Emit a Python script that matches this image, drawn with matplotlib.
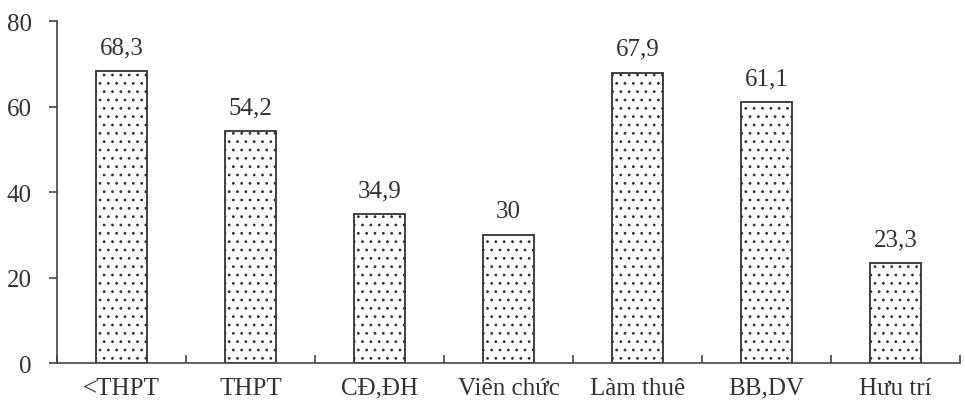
import numpy as np
import matplotlib.pyplot as plt

categories = ['<THPT', 'THPT', 'CĐ,ĐH', 'Viên chức', 'Làm thuê', 'BB,DV', 'Hưu trí']
values = [68.3, 54.2, 34.9, 30, 67.9, 61.1, 23.3]
value_labels = ['68,3', '54,2', '34,9', '30', '67,9', '61,1', '23,3']

plt.rcParams['font.family'] = ['Liberation Serif', 'DejaVu Serif']
plt.rcParams['hatch.linewidth'] = 0.8
plt.rcParams['hatch.color'] = '#707070'

fig = plt.figure(figsize=(9.65, 4.06), dpi=100)
ax = fig.add_axes([0.059, 0.1034, 0.936, 0.8424])

ind = np.arange(len(categories))
ax.bar(ind, values, width=0.4, facecolor='white', edgecolor='#333333',
       linewidth=1.3, hatch='..')

for i, v in enumerate(values):
    ax.text(ind[i], v + 3, value_labels[i], ha='center', va='bottom',
            fontsize=18, color='#333333')

ax.set_xlim(-0.5, len(categories) - 0.5)
ax.set_ylim(0, 80)
ax.set_yticks([0, 20, 40, 60, 80])
ax.set_xticks(ind)
ax.set_xticklabels(categories)
ax.set_xticks(np.arange(len(categories) + 1) - 0.5, minor=True)
ax.tick_params(axis='x', which='major', length=0, pad=10, labelsize=18,
               labelcolor='#333333')
ax.tick_params(axis='x', which='minor', direction='in', length=6, width=1.2,
               color='#444444')
ax.tick_params(axis='y', direction='out', length=6, width=1.2, pad=12,
               labelsize=18, labelcolor='#333333', color='#444444')

for s in ['top', 'right']:
    ax.spines[s].set_visible(False)
for s in ['left', 'bottom']:
    ax.spines[s].set_color('#444444')
    ax.spines[s].set_linewidth(1.2)

fig.savefig('out.png', dpi=100)
